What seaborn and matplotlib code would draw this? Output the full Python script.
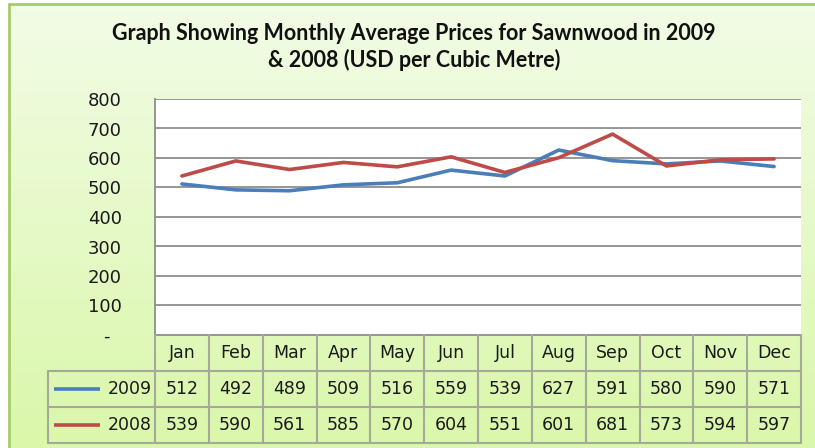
import numpy as np
import pandas as pd
import matplotlib
matplotlib.use("Agg")
import matplotlib.pyplot as plt
import seaborn as sns

# ---------------------- DATA ----------------------
months = ['Jan', 'Feb', 'Mar', 'Apr', 'May', 'Jun',
          'Jul', 'Aug', 'Sep', 'Oct', 'Nov', 'Dec']
prices_2009 = [512, 492, 489, 509, 516, 559, 539, 627, 591, 580, 590, 571]
prices_2008 = [539, 590, 561, 585, 570, 604, 551, 601, 681, 573, 594, 597]
years = ['2009', '2008']
y_ticks = [0, 100, 200, 300, 400, 500, 600, 700, 800]

title = ("Graph Showing Monthly Average Prices for Sawnwood in 2009\n"
         "& 2008 (USD per Cubic Metre)")

df = pd.DataFrame({
    'month': months * 2,
    'idx': list(range(len(months))) * 2,
    'price': prices_2009 + prices_2008,
    'year': ['2009'] * len(months) + ['2008'] * len(months),
})

# ---------------------- STYLE ----------------------
sns.set_theme(style="white")
plt.rcParams['font.family'] = ['DejaVu Sans']

colors = {'2009': '#4a7ebb', '2008': '#be4b48'}
grid_col = '#8e8e8e'
table_col = '#a3ab98'

W, H = 815, 448
fig = plt.figure(figsize=(W / 100, H / 100), dpi=100)
fig.patch.set_facecolor('white')

# background gradient for the chart area
bg = fig.add_axes([9 / W, 0, 1 - 9 / W, 1 - 4 / H])
top = np.array([242, 252, 230]) / 255
bottom = np.array([218, 247, 170]) / 255
t = np.linspace(0, 1, 200)[:, None, None]
grad = top * (1 - t) + bottom * t
grad = np.repeat(grad, 2, axis=1)
bg.imshow(grad, extent=[0, 1, 0, 1], aspect='auto')
bg.set_axis_off()
fig.add_artist(plt.Line2D([9 / W, 9 / W], [0, 1 - 4 / H], color='#a6cc68', lw=2))
fig.add_artist(plt.Line2D([9 / W, 1], [1 - 4 / H, 1 - 4 / H], color='#a6cc68', lw=2))

# title
fig.text(414 / W, 1 - 47 / H, title, ha='center', va='center',
         fontsize=15.5, fontweight='bold', family=['Lato', 'DejaVu Sans'],
         linespacing=1.3, color='#111111')

# ---------------------- MAIN PLOT ----------------------
L, R, T, B = 155, 801, 99, 335
ax = fig.add_axes([L / W, 1 - B / H, (R - L) / W, (B - T) / H])
ax.set_facecolor('white')

sns.lineplot(data=df, x='idx', y='price', hue='year', palette=colors,
             linewidth=2.6, ax=ax, legend=False, zorder=3)

ax.set_xlim(-0.5, len(months) - 0.5)
ax.set_ylim(0, 800)
ax.set_yticks(y_ticks)
ax.set_yticklabels(['-  '] + [str(v) for v in y_ticks[1:]], fontsize=13, color='#1a1a1a')
ax.set_xticks([])
ax.tick_params(axis='y', length=0, pad=24)
ax.set_xlabel('')
ax.set_ylabel('')
for v in y_ticks[1:]:
    ax.axhline(v, color=grid_col, lw=1.3, zorder=1)
for s in ['top', 'right', 'bottom']:
    ax.spines[s].set_visible(False)
ax.spines['left'].set_color(grid_col)
ax.spines['left'].set_linewidth(1.3)

# ---------------------- DATA TABLE ----------------------
TL, TB = 48, 443
col_px = (R - L) / len(months)
x_left = -0.5 - (L - TL) / col_px
tax = fig.add_axes([TL / W, 1 - TB / H, (R - TL) / W, (TB - B) / H])
tax.set_xlim(x_left, len(months) - 0.5)
tax.set_ylim(0, 3)
tax.set_axis_off()

kw = dict(color=table_col, lw=1.5, clip_on=False)
tax.plot([-0.5, len(months) - 0.5], [3, 3], color=grid_col, lw=1.3, clip_on=False)
for yy in [0, 1, 2]:
    tax.plot([x_left, len(months) - 0.5], [yy, yy], **kw)
for i in range(-1, len(months)):
    tax.plot([i + 0.5, i + 0.5], [0, 3], **kw)
tax.plot([x_left, x_left], [0, 2], **kw)

for i, m in enumerate(months):
    tax.text(i, 2.5, m, ha='center', va='center', fontsize=12.5, color='#1a1a1a')

for row, (yr, vals) in enumerate(zip(years, [prices_2009, prices_2008])):
    yc = 1.5 - row
    for i, v in enumerate(vals):
        tax.text(i, yc, str(v), ha='center', va='center', fontsize=12.5, color='#1a1a1a')
    tax.text(-0.5 - 3 / col_px, yc, yr, ha='right', va='center', fontsize=12.5, color='#1a1a1a')
    tax.plot([x_left + 6 / col_px, x_left + 52 / col_px], [yc, yc],
             color=colors[yr], lw=2.6, solid_capstyle='butt')

fig.savefig('out.png', dpi=100)
